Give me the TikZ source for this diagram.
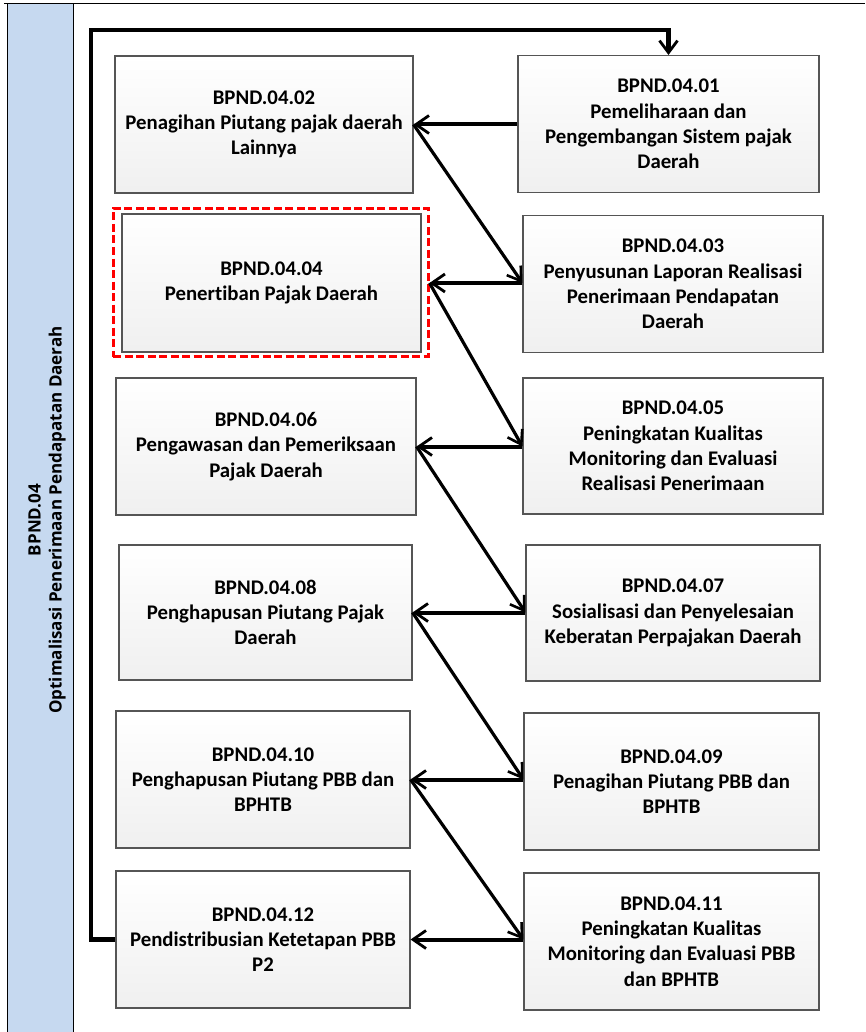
\documentclass[tikz,border=0pt]{standalone}
\usepackage{fontspec}
\setmainfont{Carlito}[Ligatures=NoCommon]
\newfontfamily\bandfont{Open Sans}
\usetikzlibrary{arrows.meta}
\definecolor{bandblue}{HTML}{C6D9F0}
\definecolor{boxedge}{HTML}{555555}
\tikzset{
  pbox/.style={draw=boxedge, line width=1.1pt, top color=white, bottom color=black!6,
    minimum height=137pt, inner sep=2pt, align=center,
    font=\fontsize{20.8}{25.3}\selectfont\bfseries},
  harrow/.style={line width=4pt, -{Straight Barb[length=13pt,width=18pt,line width=2.8pt]}},
  darrow/.style={line width=3.2pt, -{Straight Barb[length=13pt,width=17pt,line width=2.6pt]}},
  looparrow/.style={line width=4.5pt, -{Straight Barb[length=12pt,width=18pt,line width=2.8pt]}},
}
\begin{document}
\begin{tikzpicture}[x=1pt,y=-1pt]
\useasboundingbox (0,0) rectangle (865,1032);
% frame and band
\draw[line width=1pt] (4,4) -- (865,4);
\draw[line width=1pt, fill=bandblue] (7,4) rectangle (73,1034);
\node[rotate=90, align=center, font=\bandfont\fontsize{17}{21}\selectfont\bfseries] (band) at (47,520)
  {BPND.04\\Optimalisasi Penerimaan Pendapatan Daerah};

% boxes
\node[pbox, minimum width=298pt] (b02) at (264,124.5) {BPND.04.02\\Penagihan Piutang pajak daerah\\Lainnya};
\node[pbox, minimum width=301pt] (b01) at (668.5,124) {BPND.04.01\\Pemeliharaan dan\\Pengembangan Sistem pajak\\Daerah};
\node[pbox, minimum width=299pt, minimum height=138pt] (b04) at (271.5,283) {BPND.04.04\\Penertiban Pajak Daerah};
\node[pbox, minimum width=300pt] (b03) at (673,284) {BPND.04.03\\Penyusunan Laporan Realisasi\\Penerimaan Pendapatan\\Daerah};
\node[pbox, minimum width=300pt] (b06) at (266,446.5) {BPND.04.06\\Pengawasan dan Pemeriksaan\\Pajak Daerah};
\node[pbox, minimum width=300pt, minimum height=136pt] (b05) at (673,446) {BPND.04.05\\Peningkatan Kualitas\\Monitoring dan Evaluasi\\Realisasi Penerimaan};
\node[pbox, minimum width=293pt, minimum height=135pt] (b08) at (265.5,612.5) {BPND.04.08\\Penghapusan Piutang Pajak\\Daerah};
\node[pbox, minimum width=294pt, minimum height=136pt] (b07) at (673,613) {BPND.04.07\\Sosialisasi dan Penyelesaian\\Keberatan Perpajakan Daerah};
\node[pbox, minimum width=294pt] (b10) at (263,779.5) {BPND.04.10\\Penghapusan Piutang PBB dan\\BPHTB};
\node[pbox, minimum width=295pt] (b09) at (671.5,781.5) {BPND.04.09\\Penagihan Piutang PBB dan\\BPHTB};
\node[pbox, minimum width=294pt] (b12) at (263,939.5) {BPND.04.12\\Pendistribusian Ketetapan PBB\\P2};
\node[pbox, minimum width=295pt] (b11) at (671.5,941.5) {BPND.04.11\\Peningkatan Kualitas\\Monitoring dan Evaluasi PBB\\dan BPHTB};

% red dashed highlight
\node[draw=red, line width=3pt, dash pattern=on 8pt off 3.5pt, inner sep=0pt,
  minimum width=315pt, minimum height=148pt] (hl) at (270.5,282.5) {};

% horizontal arrows
\draw[harrow] (b01.west |- b02.east) -- (b02.east);
\draw[harrow] (b03.west |- b04.east) -- (hl.east |- b04.east);
\draw[harrow] (b05.west |- b06.east) -- (b06.east);
\draw[harrow] (b07.west |- b08.east) -- (b08.east);
\draw[harrow] (b09.west |- b10.east) -- (b10.east);
\draw[harrow] (b11.west |- b12.east) -- (b12.east);

% diagonal arrows
\draw[darrow] (b02.east) -- (b03.west |- b04.east);
\draw[darrow] (hl.east |- b04.east) -- (b05.west |- b06.east);
\draw[darrow] (b06.east) -- (b07.west |- b08.east);
\draw[darrow] (b08.east) -- (b09.west |- b10.east);
\draw[darrow] (b10.east) -- (b11.west |- b12.east);

% loop back
\coordinate (lc) at (91,0);
\coordinate (tc) at (0,30);
\draw[looparrow] (b12.west) -- (lc |- b12.west) -- (lc |- tc) -- (b01.north |- tc) -- (b01.north);
\end{tikzpicture}
\end{document}
